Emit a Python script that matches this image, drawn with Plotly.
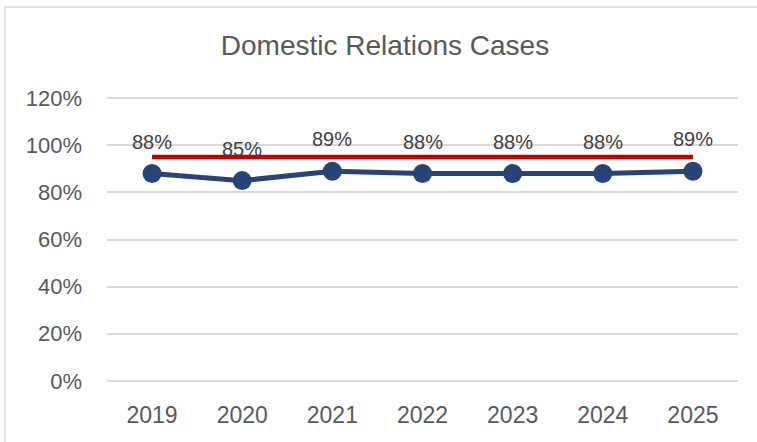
import plotly.graph_objects as go

years = ["2019", "2020", "2021", "2022", "2023", "2024", "2025"]
rates = [88, 85, 89, 88, 88, 88, 89]
target = [95, 95, 95, 95, 95, 95, 95]
labels = ["88%", "85%", "89%", "88%", "88%", "88%", "89%"]
ytick_vals = [0, 20, 40, 60, 80, 100, 120]
ytick_text = ["0%", "20%", "40%", "60%", "80%", "100%", "120%"]

FONT = "Liberation Sans, Arial, sans-serif"

L, R, T, B = 107, 19, 97, 60
W, H = 757, 442
PW, PH = W - L - R, H - T - B

fig = go.Figure()
fig.add_trace(go.Scatter(
    x=years, y=target, mode="lines",
    line=dict(color="#C00000", width=4.5), hoverinfo="skip", showlegend=False,
))
fig.add_trace(go.Scatter(
    x=years, y=rates, mode="lines+markers",
    line=dict(color="#264478", width=5),
    marker=dict(size=19, color="#264478"),
    showlegend=False,
))
for i, (v, t) in enumerate(zip(rates, labels)):
    fig.add_annotation(x=i, y=v, text=t, showarrow=False, yshift=32,
                       font=dict(family=FONT, size=20, color="#404040"))

fig.add_shape(type="rect", xref="paper", yref="paper",
              x0=(5 - L) / PW, x1=1 + (R + 20) / PW,
              y0=-(B + 20) / PH, y1=1 + (T - 7) / PH,
              line=dict(color="#D9D9D9", width=1.5), fillcolor="rgba(0,0,0,0)", layer="below")

fig.update_layout(
    width=W, height=H,
    margin=dict(l=L, r=R, t=T, b=B),
    paper_bgcolor="white", plot_bgcolor="white",
    title=dict(text="Domestic Relations Cases", x=(385 - L) / PW, xref="paper", xanchor="center",
               y=1 - 45 / H, yanchor="middle",
               font=dict(family=FONT, size=28, color="#595959")),
    xaxis=dict(type="category", range=[-0.5, 6.5], showgrid=False, zeroline=False, showline=False,
               ticks="", tickfont=dict(family=FONT, size=23, color="#595959"),
               ticklabelstandoff=17),
    yaxis=dict(range=[-0.5, 120.5], tickvals=ytick_vals, ticktext=ytick_text,
               showgrid=True, gridcolor="#D9D9D9", gridwidth=1.5, zeroline=False,
               showline=False, ticks="", ticklabelstandoff=24,
               tickfont=dict(family=FONT, size=22, color="#595959")),
)
fig.write_html("out.html", config={"displayModeBar": False},
               post_script="document.body.style.margin='0';")
